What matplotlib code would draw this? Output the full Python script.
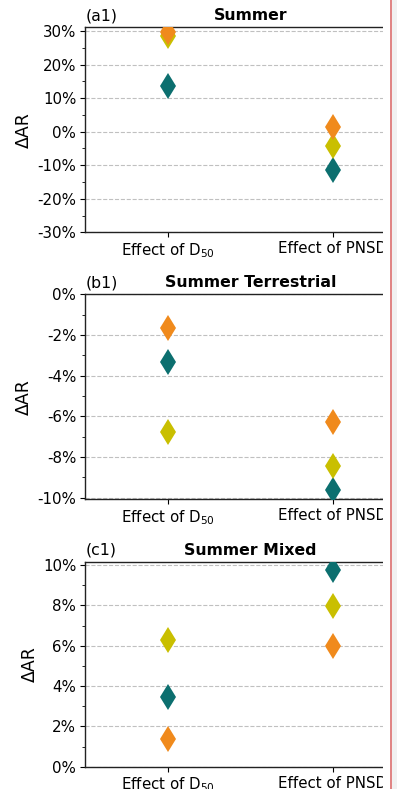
import matplotlib
matplotlib.use("Agg")
import matplotlib.pyplot as plt
from matplotlib.ticker import FuncFormatter, MultipleLocator, AutoMinorLocator
from matplotlib.patches import Rectangle

# effect categories on the x axis
effects = ["Effect of D$_{50}$", "Effect of PNSD"]

# relative change of AR (%) per case, order: orange, yellow, teal
summer_orange = [29.7, 1.5]
summer_yellow = [28.4, -4.3]
summer_teal = [13.7, -11.4]

terr_orange = [-1.66, -6.27]
terr_yellow = [-6.77, -8.45]
terr_teal = [-3.33, -9.64]

mixed_orange = [1.36, 5.97]
mixed_yellow = [6.30, 7.98]
mixed_teal = [3.44, 9.77]

c_orange = "#f08a1c"
c_yellow = "#c9bf00"
c_teal = "#0c6f6f"

panels = [
    ("(a1)", "Summer", (summer_orange, summer_yellow, summer_teal), (-30, 31.1), 10),
    ("(b1)", "Summer Terrestrial", (terr_orange, terr_yellow, terr_teal), (-10.08, 0), 2),
    ("(c1)", "Summer Mixed", (mixed_orange, mixed_yellow, mixed_teal), (0, 10.17), 2),
]

W, H = 397, 789
fig = plt.figure(figsize=(W / 100, H / 100), dpi=100)
plt.rcParams["font.family"] = ["DejaVu Sans"]

left = 85.3 / W
width = 330 / W
height = 205 / H
bottoms = [556.7 / H, 289.7 / H, 22.3 / H]

x = list(range(len(effects)))
pct = FuncFormatter(lambda v, p: "%d%%" % round(v))

for (tag, title, series, ylim, step), b in zip(panels, bottoms):
    ax = fig.add_axes([left, b, width, height])
    # teal first, orange last so it sits on top
    for vals, col in [(series[2], c_teal), (series[1], c_yellow), (series[0], c_orange)]:
        ax.plot(x, vals, linestyle="none", marker="d", markersize=13.5,
                color=col, markeredgewidth=0, zorder=3)
    ax.set_xlim(-0.5, 1.5)
    ax.set_ylim(*ylim)
    ax.yaxis.set_major_locator(MultipleLocator(step))
    ax.yaxis.set_minor_locator(AutoMinorLocator(2))
    ax.yaxis.set_major_formatter(pct)
    ax.set_xticks(x)
    ax.set_xticklabels(effects)
    ax.tick_params(axis="both", labelsize=10.8, length=3.5, width=0.8, pad=3)
    ax.tick_params(axis="y", which="minor", length=2, width=0.6)
    ax.grid(axis="y", linestyle="--", color="#c0c0c0", linewidth=0.8)
    ax.set_axisbelow(True)
    ax.set_ylabel("ΔAR", fontsize=12.5, labelpad=3)
    ax.set_title(title, fontsize=11.3, fontweight="bold", pad=5)
    ax.set_title(tag, loc="left", fontsize=11.3, pad=5)
    for s in ax.spines.values():
        s.set_linewidth(1.0)
        s.set_color("#222222")

# right margin strip
fig.patches.append(Rectangle((383 / W, 0), 14 / W, 1, transform=fig.transFigure,
                             facecolor="white", edgecolor="none", zorder=10))
fig.patches.append(Rectangle((390.3 / W, 0), 1.8 / W, 1, transform=fig.transFigure,
                             facecolor="#e08585", edgecolor="none", zorder=11))
fig.patches.append(Rectangle((392.1 / W, 0), 5 / W, 1, transform=fig.transFigure,
                             facecolor="#f1f1f1", edgecolor="none", zorder=11))

fig.savefig("out.png", dpi=100)
